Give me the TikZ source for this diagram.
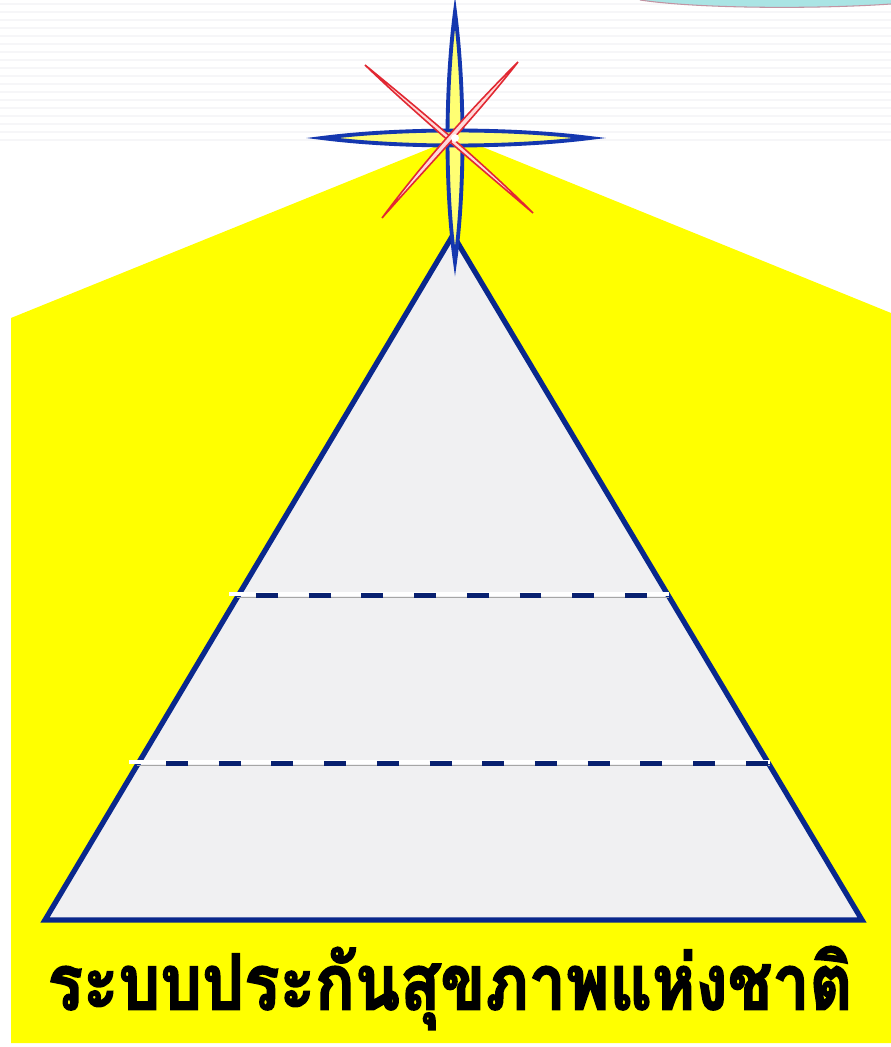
\documentclass[tikz,border=0pt]{standalone}
\usepackage{fontspec}
\usepackage{graphicx}
\usepackage{tikz}
\usetikzlibrary{positioning, calc}
\newfontfamily\thaifont[Script=Thai, BoldFeatures={FakeBold=2.2}]{Loma}
\definecolor{myblue}{RGB}{10,40,140}
\definecolor{starblue}{RGB}{20,55,175}
\definecolor{staryellow}{RGB}{255,255,0}
\definecolor{mygrey}{RGB}{240,240,242}
\definecolor{myred}{RGB}{225,40,50}
\definecolor{myteal}{RGB}{170,228,228}
\definecolor{mystripe}{RGB}{246,246,248}
\tikzset{
  pyramid/.style={draw=myblue, fill=mygrey, line width=3pt, line join=miter},
  bluespike/.style={draw=starblue, fill=staryellow!55!white, line width=2.2pt},
  redspike/.style={draw=myred, fill=red!15!white, line width=0.9pt},
  tierline/.style={draw=white, line width=2.4pt},
  tierdash/.style={draw=myblue!80!black, line width=3pt, dash pattern=on 12.5pt off 17.5pt},
  tierbase/.style={draw=gray!70, line width=0.5pt},
  titletext/.style={font=\thaifont\bfseries\fontsize{44}{48}\selectfont, text=black, inner sep=0pt}
}

\begin{document}
\begin{tikzpicture}[x=0.02cm, y=-0.02cm]
  \useasboundingbox (0,0) rectangle (891,1047);
  \fill[white] (0,0) rectangle (891,1047);

  % faint slide stripes at the top
  \foreach \yy in {4,12,...,140}
    \draw[mystripe, line width=1.5pt] (0,\yy) -- (891,\yy);

  % corner decoration
  \fill[myteal] (640,0) .. controls (700,9) and (820,9) .. (891,4) -- (891,0) -- cycle;
  \draw[gray!60!purple!60, line width=0.6pt] (640,0) .. controls (700,9) and (820,9) .. (891,4);

  % yellow light
  \fill[staryellow] (11,318) -- (458,137) -- (891,313) -- (891,1043) -- (11,1043) -- cycle;

  % pyramid
  \coordinate (apex) at (453,235);
  \coordinate (bl) at (45,920);
  \coordinate (br) at (862,920);
  \path[pyramid] (apex) -- (br) -- (bl) -- cycle;

  % tiers
  \coordinate (t1l) at ($(apex)!0.529!(bl)$);
  \coordinate (t1r) at ($(apex)!0.529!(br)$);
  \coordinate (t2l) at ($(apex)!0.774!(bl)$);
  \coordinate (t2r) at ($(apex)!0.774!(br)$);
  \draw[tierline] ($(t1l)+(-8,-3)$) -- ($(t1r)+(0,-3)$);
  \draw[tierbase] (t1l) -- (t1r);
  \draw[tierdash, dash phase=19.3pt] ($(t1l)+(0,-2)$) -- ($(t1r)+(0,-2)$);
  \draw[tierline] ($(t2l)+(-8,-3)$) -- ($(t2r)+(0,-3)$);
  \draw[tierbase] (t2l) -- (t2r);
  \draw[tierdash, dash phase=13.6pt] ($(t2l)+(0,-2)$) -- ($(t2r)+(0,-2)$);

  % star
  \coordinate (starc) at (455,138);
  \path[bluespike] (455,12) .. controls (465,90) and (465,190) .. (455,262)
    .. controls (445,190) and (445,90) .. cycle;
  \path[bluespike] (322,138) .. controls (400,148) and (510,148) .. (590,138)
    .. controls (510,128) and (400,128) .. cycle;
  \path[redspike] (365,65) .. controls (420,110) and (480,160) .. (533,213)
    .. controls (478,166) and (418,116) .. cycle;
  \path[redspike] (518,62) .. controls (470,110) and (425,160) .. (382,218)
    .. controls (428,166) and (476,116) .. cycle;
  \fill[white] (starc) circle (4);

  % title
  \node[titletext] (title) at (450,988) {\resizebox{16.1cm}{\height}{ระบบประกันสุขภาพแห่งชาติ}};
\end{tikzpicture}
\end{document}
